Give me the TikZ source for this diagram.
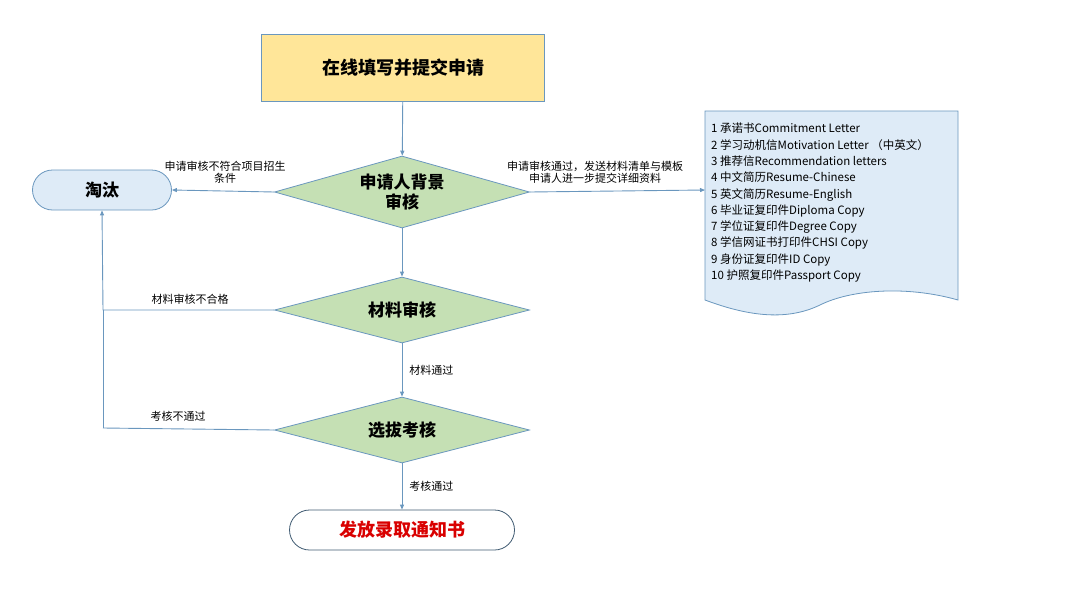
\documentclass[tikz,border=0pt]{standalone}
\usepackage{fontspec}
\setmainfont{Noto Sans CJK SC}
\usetikzlibrary{shapes.geometric,arrows.meta}
\definecolor{ln}{HTML}{6A97BE}
\definecolor{yel}{HTML}{FFE699}
\definecolor{grn}{HTML}{C5E0B4}
\definecolor{lb}{HTML}{DEEBF7}
\tikzset{
 conn/.style={draw=ln,line width=0.9pt,-{Triangle[length=5pt,width=4pt]}},
 dia/.style={diamond,draw=ln,fill=grn,line width=0.8pt,minimum width=255pt,minimum height=66pt,aspect=3.8,inner sep=0pt,font=\fontsize{17}{20}\bfseries,align=center},
 lab/.style={font=\fontsize{11}{12}\selectfont,align=center,inner sep=1pt}
}
\begin{document}
\begin{tikzpicture}[x=1pt,y=-1pt]
\useasboundingbox (0,0) rectangle (1080,608);
\node[draw=ln,fill=yel,line width=0.8pt,minimum width=283pt,minimum height=67pt,font=\fontsize{18}{20}\bfseries] (top) at (403,68) {在线填写并提交申请};
\node[dia,minimum height=72pt] (d1) at (402,192) {申请人背景\\审核};
\node[dia] (d2) at (402,310) {材料审核};
\node[dia] (d3) at (402,430) {选拔考核};
\node[draw=ln,fill=lb,line width=0.8pt,rounded corners=20pt,minimum width=139pt,minimum height=40pt,font=\fontsize{17}{20}\bfseries] (tt) at (102,190) {淘汰};
\node[draw=ln!60!black,fill=white,line width=0.8pt,rounded corners=20pt,minimum width=225pt,minimum height=40pt,font=\fontsize{18}{20}\bfseries,text=red!85!black] (fin) at (402,530) {发放录取通知书};
\coordinate (docl) at (705,190);
\draw[draw=ln,fill=lb,line width=0.8pt] (705,111) -- (958,111) -- (958,300) .. controls (905,285) and (850,290) .. (820,305) .. controls (785,322) and (745,315) .. (705,300) -- cycle;
\node[anchor=north west,align=left,font=\fontsize{11.5}{16.3}\selectfont,inner sep=0pt] (doc) at (711,123) {1 承诺书Commitment Letter\\2 学习动机信Motivation Letter （中英文）\\3 推荐信Recommendation letters\\4 中文简历Resume-Chinese\\5 英文简历Resume-English\\6 毕业证复印件Diploma Copy\\7 学位证复印件Degree Copy\\8 学信网证书打印件CHSI Copy\\9 身份证复印件ID Copy\\10 护照复印件Passport Copy};
\draw[conn] (top) -- (d1);
\draw[conn] (d1) -- (d2);
\draw[conn] (d2) -- node[lab,right,xshift=6pt]{材料通过} (d3);
\draw[conn] (d3) -- node[lab,right,xshift=6pt]{考核通过} (fin);
\draw[conn] (d1.west) -- (tt.east);
\node[lab] at (225,172) {申请审核不符合项目招生\\条件};
\draw[conn] (d1.east) -- (docl);
\node[lab] at (595,172) {申请审核通过，发送材料清单与模板\\申请人进一步提交详细资料};
\coordinate (c2) at (103,310);
\coordinate (c3) at (103,428);
\draw[draw=ln,line width=0.9pt] (d3.west) -- (c3);
\draw[conn] (d2.west) -- (c2) -- (tt.south);
\draw[draw=ln,line width=0.9pt] (c3) -- (c2);
\node[lab] at (190,299) {材料审核不合格};
\node[lab] at (178,416) {考核不通过};
\end{tikzpicture}
\end{document}
